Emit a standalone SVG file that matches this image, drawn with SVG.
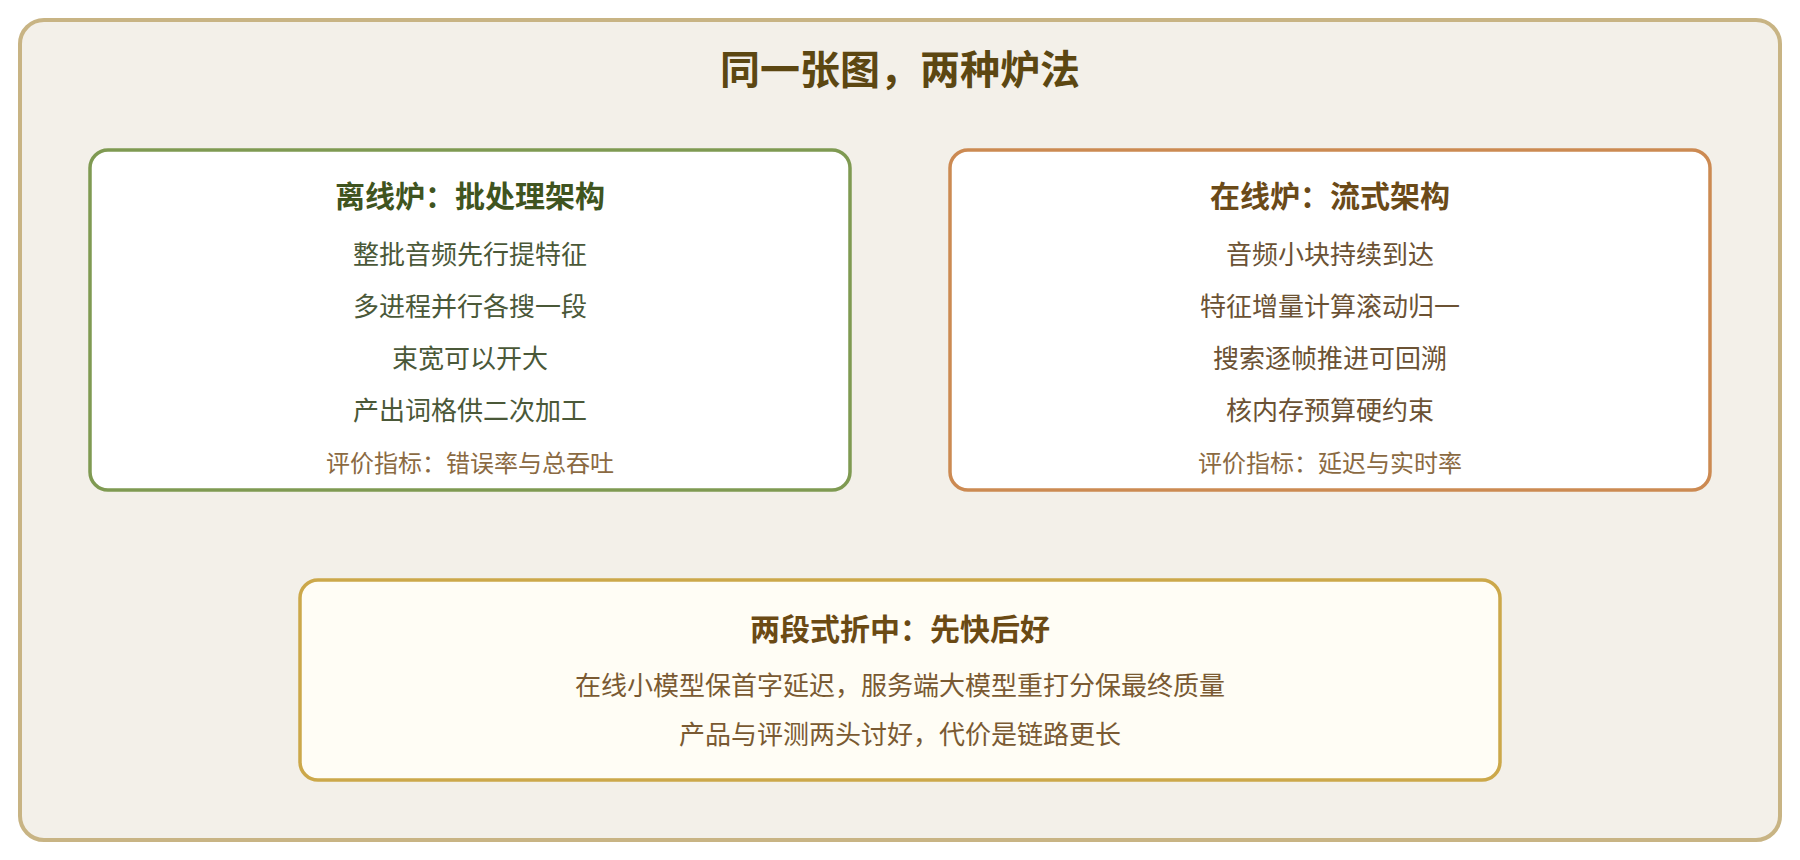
<svg xmlns="http://www.w3.org/2000/svg" width="1800" height="860" viewBox="0 0 1800 860">
<style>
text{font-family:"Noto Sans CJK SC","Noto Sans",sans-serif;text-anchor:middle}
.h{font-weight:700}
.t{font-size:40px;fill:#5c4712}
.st{font-size:30px}
.b{font-size:26px}
.m{font-size:24px;fill:#8b6a42}
.box{stroke-width:3.5}
</style>
<rect x="20" y="20" width="1760" height="820" rx="24" fill="#f3f0e9" stroke="#c8b484" stroke-width="4"/>
<text class="h t" x="900" y="84">同一张图，两种炉法</text>
<g id="offline">
<rect class="box" x="90" y="150" width="760" height="340" rx="18" fill="#ffffff" stroke="#7f9a52"/>
<text class="h st" x="470" y="207" fill="#3f5420">离线炉：批处理架构</text>
<text class="b" x="470" y="264" fill="#4a5838">整批音频先行提特征</text>
<text class="b" x="470" y="316" fill="#4a5838">多进程并行各搜一段</text>
<text class="b" x="470" y="368" fill="#4a5838">束宽可以开大</text>
<text class="b" x="470" y="420" fill="#4a5838">产出词格供二次加工</text>
<text class="m" x="470" y="472">评价指标：错误率与总吞吐</text>
</g>
<g id="online">
<rect class="box" x="950" y="150" width="760" height="340" rx="18" fill="#ffffff" stroke="#cc8a52"/>
<text class="h st" x="1330" y="207" fill="#6b4a18">在线炉：流式架构</text>
<text class="b" x="1330" y="264" fill="#6b5234">音频小块持续到达</text>
<text class="b" x="1330" y="316" fill="#6b5234">特征增量计算滚动归一</text>
<text class="b" x="1330" y="368" fill="#6b5234">搜索逐帧推进可回溯</text>
<text class="b" x="1330" y="420" fill="#6b5234">核内存预算硬约束</text>
<text class="m" x="1330" y="472">评价指标：延迟与实时率</text>
</g>
<g id="hybrid">
<rect class="box" x="300" y="580" width="1200" height="200" rx="18" fill="#fffdf5" stroke="#cca84a"/>
<text class="h st" x="900" y="640" fill="#6b4a14">两段式折中：先快后好</text>
<text class="b" x="900" y="695" fill="#7a5a32">在线小模型保首字延迟，服务端大模型重打分保最终质量</text>
<text class="b" x="900" y="744" fill="#7a5a32">产品与评测两头讨好，代价是链路更长</text>
</g>
<g id="connectors"></g>
</svg>
